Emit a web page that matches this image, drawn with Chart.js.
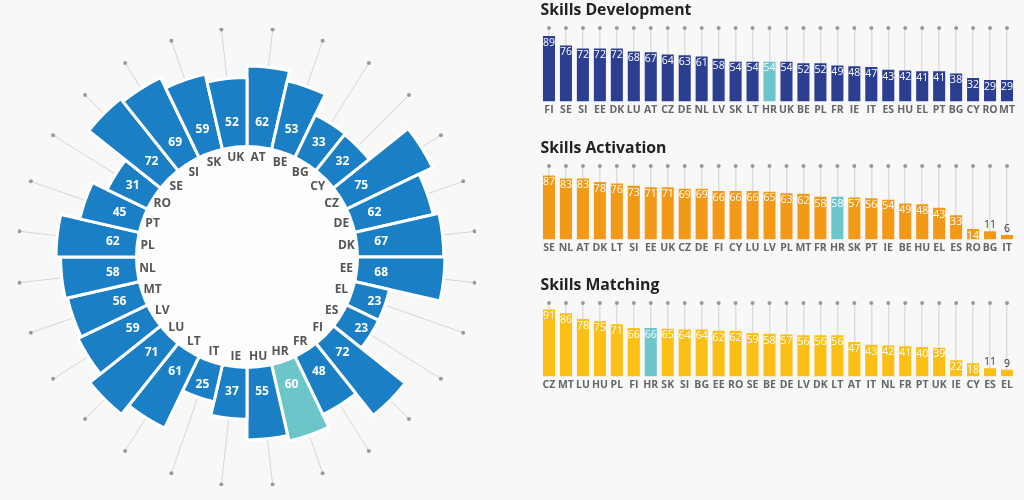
<!DOCTYPE html>
<html lang="en">
<head>
  <meta charset="UTF-8">
  <title>Skills index</title>
  <script src="https://cdn.jsdelivr.net/npm/chart.js"></script>
  <style>
    body {
      margin: 0;
      background-color: #f8f8f8;
      font-family: 'Open Sans', sans-serif;
      width: 1024px;
      height: 500px;
      overflow: hidden;
    }
    .box { position: absolute; }
    #wheelBox { left: 18px; top: 28px; width: 458px; height: 458px; }
    #devBox { left: 529px; top: 0px; width: 495px; height: 118px; }
    #actBox { left: 529px; top: 138px; width: 495px; height: 118px; }
    #matBox { left: 529px; top: 275px; width: 495px; height: 118px; }
  </style>
</head>
<body>
  <div class="box" id="wheelBox"><canvas id="wheel"></canvas></div>
  <div class="box" id="devBox"><canvas id="dev"></canvas></div>
  <div class="box" id="actBox"><canvas id="act"></canvas></div>
  <div class="box" id="matBox"><canvas id="mat"></canvas></div>

  <script>
    const highlight = 'HR';

    // overall index, alphabetical, clockwise from the top
    const wheelCountries = ['AT', 'BE', 'BG', 'CY', 'CZ', 'DE', 'DK', 'EE', 'EL', 'ES', 'FI', 'FR', 'HR', 'HU',
      'IE', 'IT', 'LT', 'LU', 'LV', 'MT', 'NL', 'PL', 'PT', 'RO', 'SE', 'SI', 'SK', 'UK'];
    const wheelValues = [62, 53, 33, 32, 75, 62, 67, 68, 23, 23, 72, 48, 60, 55,
      37, 25, 61, 71, 59, 56, 58, 62, 45, 31, 72, 69, 59, 52];

    const devCountries = ['FI', 'SE', 'SI', 'EE', 'DK', 'LU', 'AT', 'CZ', 'DE', 'NL', 'LV', 'SK', 'LT', 'HR',
      'UK', 'BE', 'PL', 'FR', 'IE', 'IT', 'ES', 'HU', 'EL', 'PT', 'BG', 'CY', 'RO', 'MT'];
    const devValues = [89, 76, 72, 72, 72, 68, 67, 64, 63, 61, 58, 54, 54, 54,
      54, 52, 52, 49, 48, 47, 43, 42, 41, 41, 38, 32, 29, 29];

    const actCountries = ['SE', 'NL', 'AT', 'DK', 'LT', 'SI', 'EE', 'UK', 'CZ', 'DE', 'FI', 'CY', 'LU', 'LV',
      'PL', 'MT', 'FR', 'HR', 'SK', 'PT', 'IE', 'BE', 'HU', 'EL', 'ES', 'RO', 'BG', 'IT'];
    const actValues = [87, 83, 83, 78, 76, 73, 71, 71, 69, 69, 66, 66, 66, 65,
      63, 62, 58, 58, 57, 56, 54, 49, 48, 43, 33, 14, 11, 6];

    const matCountries = ['CZ', 'MT', 'LU', 'HU', 'PL', 'FI', 'HR', 'SK', 'SI', 'BG', 'EE', 'RO', 'SE', 'BE',
      'DE', 'LV', 'DK', 'LT', 'AT', 'IT', 'NL', 'FR', 'PT', 'UK', 'IE', 'CY', 'ES', 'EL'];
    const matValues = [91, 86, 78, 75, 71, 66, 66, 65, 64, 64, 62, 62, 59, 58,
      57, 56, 56, 56, 47, 43, 42, 41, 40, 39, 22, 18, 11, 9];

    const TEAL = '#6cc5c8';
    const HOLE = 112;
    const FONT = "'Open Sans', sans-serif";

    // ---- wheel ----
    const wheelDecor = {
      id: 'wheelDecor',
      beforeDatasetsDraw(chart) {
        const r = chart.scales.r;
        const ctx = chart.ctx;
        const rim = r.getDistanceFromCenterForValue(r.max);
        ctx.save();
        chart.getDatasetMeta(0).data.forEach(arc => {
          const a = (arc.startAngle + arc.endAngle) / 2;
          const c = Math.cos(a), s = Math.sin(a);
          ctx.strokeStyle = '#d6d6d6';
          ctx.lineWidth = 1;
          ctx.beginPath();
          ctx.moveTo(arc.x + HOLE * c, arc.y + HOLE * s);
          ctx.lineTo(arc.x + rim * c, arc.y + rim * s);
          ctx.stroke();
          ctx.fillStyle = '#9a9a9a';
          ctx.beginPath();
          ctx.arc(arc.x + rim * c, arc.y + rim * s, 2, 0, Math.PI * 2);
          ctx.fill();
        });
        ctx.restore();
      },
      afterDatasetsDraw(chart) {
        const r = chart.scales.r;
        const ctx = chart.ctx;
        ctx.save();
        ctx.fillStyle = '#fdfdfd';
        ctx.beginPath();
        ctx.arc(r.xCenter, r.yCenter, HOLE, 0, Math.PI * 2);
        ctx.fill();
        ctx.textAlign = 'center';
        ctx.textBaseline = 'middle';
        ctx.font = 'bold 12px ' + FONT;
        chart.getDatasetMeta(0).data.forEach((arc, i) => {
          const a = (arc.startAngle + arc.endAngle) / 2;
          const c = Math.cos(a), s = Math.sin(a);
          ctx.fillStyle = '#555';
          ctx.fillText(wheelCountries[i], arc.x + 100 * c, arc.y + 100 * s);
          ctx.fillStyle = '#ffffff';
          ctx.fillText(wheelValues[i], arc.x + 135 * c, arc.y + 135 * s);
        });
        ctx.restore();
      }
    };

    new Chart(document.getElementById('wheel'), {
      type: 'polarArea',
      data: {
        labels: wheelCountries,
        datasets: [{
          data: wheelValues,
          backgroundColor: wheelCountries.map(c => c === highlight ? TEAL : '#1a7fc5'),
          borderColor: '#ffffff',
          borderWidth: 3
        }]
      },
      options: {
        responsive: true,
        maintainAspectRatio: false,
        animation: false,
        layout: { padding: 0 },
        plugins: { legend: { display: false }, tooltip: { enabled: false } },
        scales: {
          r: {
            min: -104,
            max: 95,
            ticks: { display: false },
            grid: { display: false },
            angleLines: { display: false },
            pointLabels: { display: false }
          }
        }
      },
      plugins: [wheelDecor]
    });

    // ---- ranked bars ----
    const barDecor = {
      id: 'barDecor',
      afterDatasetsDraw(chart) {
        const ctx = chart.ctx;
        const x = chart.scales.x, y = chart.scales.y;
        const values = chart.data.datasets[0].data;
        ctx.save();
        ctx.fillStyle = '#9a9a9a';
        x.ticks.forEach((t, i) => {
          ctx.beginPath();
          ctx.arc(x.getPixelForTick(i), y.getPixelForValue(y.max), 2, 0, Math.PI * 2);
          ctx.fill();
        });
        ctx.font = '10.5px ' + FONT;
        ctx.textAlign = 'center';
        chart.getDatasetMeta(0).data.forEach((bar, i) => {
          if (values[i] >= 12) {
            ctx.fillStyle = '#ffffff';
            ctx.textBaseline = 'top';
            ctx.fillText(values[i], bar.x, bar.y + 1.5);
          } else {
            ctx.fillStyle = '#333';
            ctx.textBaseline = 'bottom';
            ctx.fillText(values[i], bar.x, bar.y - 1);
          }
        });
        ctx.restore();
      }
    };

    function rankChart(id, title, labels, values, color) {
      new Chart(document.getElementById(id), {
        type: 'bar',
        data: {
          labels: labels,
          datasets: [{
            data: values,
            backgroundColor: labels.map(c => c === highlight ? TEAL : color),
            categoryPercentage: 1,
            barPercentage: 0.71
          }]
        },
        options: {
          responsive: true,
          maintainAspectRatio: false,
          animation: false,
          layout: { padding: { left: 11.5, right: 8.5, top: 0, bottom: 0 } },
          plugins: {
            legend: { display: false },
            tooltip: { enabled: false },
            title: {
              display: true,
              text: title,
              align: 'start',
              color: '#222',
              font: { family: FONT, size: 15.8, weight: 'bold' },
              padding: { top: 1.5, bottom: 7.5 }
            }
          },
          scales: {
            x: {
              grid: { offset: false, color: '#dedede', lineWidth: 1.5, drawTicks: false },
              border: { display: false },
              ticks: {
                autoSkip: false,
                maxRotation: 0,
                padding: 2,
                color: '#666',
                font: { family: FONT, size: 10.5, weight: 'bold' }
              }
            },
            y: { display: false, min: 0, max: 100 }
          }
        },
        plugins: [barDecor]
      });
    }

    rankChart('dev', 'Skills Development', devCountries, devValues, '#2c3e8f');
    rankChart('act', 'Skills Activation', actCountries, actValues, '#f29a17');
    rankChart('mat', 'Skills Matching', matCountries, matValues, '#fbbf15');
  </script>
</body>
</html>
